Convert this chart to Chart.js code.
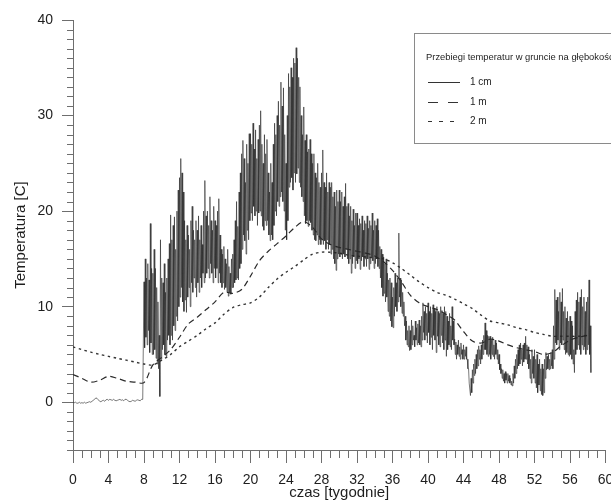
<!DOCTYPE html>
<html>
<head>
<meta charset="utf-8">
<script src="https://cdn.jsdelivr.net/npm/chart.js@4/dist/chart.umd.min.js"></script>
<style>
  html, body { margin: 0; padding: 0; background: #fff; }
  #wrap { width: 611px; height: 502px; position: relative; }
</style>
</head>
<body>
<div id="wrap"><canvas id="chart"></canvas></div>
<script>
(function () {
  'use strict';

  // --- Dane ---
  const legendTitle = 'Przebiegi temperatur w gruncie na głębokości';
  const seriesLabels = ['1 cm', '1 m', '2 m'];
  const xTitle = 'czas [tygodnie]';
  const yTitle = 'Temperatura [C]';
  const xTickStep = 4;
  const yTickStep = 10;

  // głębokość 1 m i 2 m, wartości tygodniowe (tydzień 0..58)
  const temp1m = [
    2.9, 2.5, 2.1, 2.3, 2.7, 2.5, 2.2, 2.1, 2.05, 3.9,
    4.7, 5.5, 6.8, 8.2, 8.9, 9.7, 10.5, 11.5, 11.4, 11.8,
    13.2, 14.8, 15.8, 16.6, 17.4, 18.3, 18.9, 18.3, 17.1, 16.5,
    16.2, 16.0, 15.8, 15.6, 15.3, 14.7, 13.8, 12.6, 11.2, 10.4,
    10.0, 9.7, 9.2, 8.6, 7.4, 6.4, 6.2, 6.6, 6.4, 6.0,
    5.7, 5.5, 5.3, 5.0, 5.2, 5.9, 6.5, 6.8, 7.0
  ];
  const temp2m = [
    5.8, 5.5, 5.25, 5.0, 4.8, 4.6, 4.4, 4.2, 4.0, 3.9,
    4.4, 5.0, 5.8, 6.4, 7.0, 7.7, 8.3, 9.2, 9.9, 10.2,
    10.4, 11.0, 12.0, 12.9, 13.6, 14.2, 14.9, 15.5, 15.7, 15.7,
    15.6, 15.4, 15.3, 15.2, 15.1, 15.0, 14.6, 14.0, 13.3, 12.6,
    12.0, 11.5, 11.2, 10.8, 10.3, 9.8, 9.1, 8.5, 8.3, 8.1,
    7.8, 7.6, 7.3, 7.1, 6.9, 6.9, 6.9, 6.9, 7.0
  ];

  // głębokość 1 cm, tygodnie 0..8 (wartości dzienne, przed rozmarzaniem)
  const temp1cmWinter = [
    0.0, -0.05, 0.0, -0.1, -0.1, 0.0, -0.1,
    -0.05, -0.1, 0.0, -0.1, -0.05, 0.0, 0.05,
    0.0, 0.1, 0.2, 0.3, 0.45, 0.4, 0.25,
    0.1, 0.05, 0.15, 0.2, 0.1, 0.25, 0.3,
    0.2, 0.3, 0.25, 0.2, 0.3, 0.2, 0.15,
    0.2, 0.25, 0.3, 0.2, 0.25, 0.15, 0.3,
    0.3, 0.2, 0.1, 0.05, 0.1, 0.2, 0.15,
    0.1, 0.2, 0.25, 0.2, 0.15, 0.3, 0.3
  ];
  // głębokość 1 cm od tygodnia 8: dzienne maksima i minima
  const temp1cmMax = [
    12.6, 15.0, 13.0, 14.5, 12.8, 18.7, 14.0,
    13.5, 16.0, 14.0, 12.0, 10.5, 7.0, 17.0,
    13.0, 12.5, 14.5, 11.5, 13.0, 15.0, 16.6,
    19.6, 17.0, 18.5, 19.4, 16.0, 20.0, 22.2,
    23.5, 25.5, 24.0, 22.0, 19.0, 17.0, 18.5,
    17.5, 16.0, 19.0, 20.5, 18.0, 17.0, 19.0,
    18.0, 19.5, 17.0, 18.5, 16.5, 20.0, 23.2,
    19.5, 20.0, 18.5, 21.5, 19.0, 18.0, 20.5,
    19.0, 18.5, 20.0, 21.3, 17.5, 16.0, 15.5,
    16.3, 15.0, 14.5, 16.0, 14.2, 13.5, 15.0,
    15.5, 17.0, 19.0, 21.0, 18.4, 22.0, 24.0,
    26.0, 27.4, 25.5, 23.0, 27.0, 25.0, 28.1,
    28.1, 27.0, 29.2, 26.5, 28.5, 25.5, 27.5,
    29.0, 30.5, 27.0, 25.0, 28.0, 26.0, 27.5,
    24.0, 22.0, 25.0, 23.0, 27.0, 29.2, 28.0,
    30.0, 31.5, 29.0, 33.5, 31.0, 32.9, 28.0,
    25.0, 30.0, 34.4, 33.0, 35.0, 34.0, 36.0,
    35.5, 37.1, 36.0, 34.0, 33.0, 30.0, 28.0,
    30.9, 27.4, 28.0, 26.2, 26.5, 27.5, 26.0,
    25.0, 26.0, 24.0, 23.5, 25.0, 23.0, 22.5,
    24.0, 26.4, 23.0, 22.5, 24.0, 22.0, 23.0,
    22.5, 23.0, 21.5, 22.0, 20.5, 22.2, 21.0,
    22.2, 21.0, 22.0, 20.5, 21.5, 22.9, 20.5,
    20.8, 19.5, 20.5, 19.0, 20.2, 18.5, 19.8,
    19.8, 18.5, 19.2, 18.7, 19.5, 18.0, 19.0,
    18.7, 19.5, 18.2, 19.0, 18.5, 19.8, 18.0,
    19.0, 18.5, 19.2, 18.0, 16.3, 16.0, 15.5,
    15.2, 14.5, 15.0, 13.5, 12.8, 13.0, 12.5,
    11.0, 12.0, 13.5, 12.5, 13.0, 17.7, 13.0,
    12.8, 11.5, 10.5, 9.0, 8.5, 7.5, 8.0,
    7.5, 8.6, 8.0, 7.0, 8.5, 7.8, 8.2,
    8.6, 8.0, 9.0, 10.4, 9.5, 10.0, 9.3,
    10.4, 9.5, 10.0, 9.3, 10.2, 9.8, 9.5,
    10.0, 9.5, 9.3, 10.0, 9.6, 9.3, 10.0,
    9.5, 9.0, 8.5, 9.3, 8.0, 10.0, 8.5,
    6.6, 6.3, 6.0, 6.5, 5.8, 6.2, 5.5,
    6.0, 5.5, 5.8, 4.5, 3.5, 2.0, 2.5,
    3.4, 4.0, 4.5, 5.0, 5.5, 5.9, 5.5,
    6.0, 6.5, 7.0, 8.3, 7.5, 7.0, 6.9,
    6.9, 6.5, 6.8, 6.0, 6.5, 6.2, 5.5,
    5.0, 4.0, 3.5, 3.4, 3.0, 3.2, 3.0,
    3.0, 2.8, 2.5, 2.2, 3.0, 3.8, 4.5,
    5.0, 5.5, 6.0, 6.2, 5.5, 6.0, 6.2,
    6.9, 6.0, 5.8, 5.0, 4.5, 5.5, 4.8,
    5.5, 4.5, 5.0, 4.0, 4.5, 3.5, 4.0,
    3.5, 4.5, 5.2, 4.8, 5.0, 4.5, 5.2,
    5.5, 8.0, 11.8, 10.7, 11.0, 9.5, 11.5,
    10.5, 11.9, 9.5, 10.0, 8.8, 9.5, 8.5,
    9.0, 8.5, 8.0, 5.5, 9.5, 10.7, 11.5,
    10.5, 11.0, 11.8, 10.0, 11.0, 9.5, 10.5,
    11.0, 12.8, 8.0
  ];
  const temp1cmMin = [
    5.7, 6.8, 6.0, 7.5, 5.2, 6.2, 5.0,
    5.0, 5.5, 4.6, 4.0, 3.5, 0.6, 4.5,
    5.5, 6.0, 5.0, 4.8, 6.5, 7.0, 6.0,
    7.0, 6.5, 8.0, 7.5, 9.0, 8.5, 10.0,
    11.0, 12.0, 10.5, 9.5, 10.7, 9.4, 11.0,
    12.0, 10.0, 12.5, 11.5, 13.0, 12.0, 11.0,
    12.5, 11.5, 13.0, 12.0, 13.5, 12.5, 13.0,
    13.5, 14.0, 13.0, 14.5, 13.5, 12.5, 14.0,
    13.0, 14.0, 12.5, 13.5, 12.5, 12.0, 12.5,
    11.8, 12.0, 11.5, 11.1, 11.5, 11.3, 12.0,
    12.0, 12.5, 12.8, 13.0, 12.8, 14.0, 14.5,
    16.0, 17.5, 16.9, 15.5, 18.0, 17.0, 19.0,
    19.8, 19.0, 20.5, 19.5, 20.0, 18.5, 19.8,
    20.0, 19.5, 18.4, 18.0, 19.0, 18.5, 19.0,
    17.5, 16.9, 17.5, 17.0, 18.5, 20.0, 19.5,
    21.0, 20.5, 21.5, 22.0, 21.0, 20.0, 18.0,
    17.0, 19.0, 22.5, 23.0, 23.5, 22.2, 24.0,
    23.0, 23.9, 24.5, 23.0, 22.5, 21.5, 21.0,
    19.5, 18.7, 19.0, 18.4, 19.0, 18.8, 18.0,
    17.5, 17.0, 16.9, 17.5, 16.5, 17.0, 16.5,
    17.0, 16.5, 16.9, 16.0, 17.0, 16.0, 16.5,
    15.5, 16.0, 15.0, 14.5, 13.8, 15.0, 15.5,
    15.2, 15.5, 15.0, 15.5, 15.2, 16.0, 15.0,
    14.5, 15.0, 13.5, 14.5, 15.2, 14.0, 14.8,
    14.5, 15.0, 13.9, 14.8, 15.2, 14.2, 15.0,
    14.2, 15.0, 13.9, 14.5, 15.2, 14.8, 14.0,
    14.5, 15.0, 14.2, 14.0, 13.0, 12.0, 11.1,
    11.4, 10.5, 11.0, 9.5, 9.0, 8.5, 7.9,
    7.8, 9.0, 10.0, 9.5, 10.5, 11.0, 10.0,
    9.3, 9.0, 8.0, 6.5, 6.0, 5.8, 5.4,
    5.5, 6.0, 6.5, 5.8, 6.5, 6.0, 6.2,
    6.0, 5.8, 6.5, 7.3, 6.5, 7.0, 6.2,
    7.3, 6.0, 6.8, 5.5, 7.0, 6.5, 5.2,
    6.9, 6.0, 5.8, 7.0, 6.2, 5.5, 6.5,
    4.8, 5.5, 6.0, 5.8, 5.5, 6.5, 6.0,
    5.0, 4.5, 5.0, 4.8, 4.5, 5.0, 4.5,
    4.5, 4.8, 4.5, 3.5, 2.0, 0.7, 1.0,
    2.0, 2.8, 3.0, 3.5, 3.8, 4.5, 4.0,
    4.5, 5.0, 5.5, 5.5, 5.0, 4.8, 5.0,
    4.5, 5.0, 4.8, 4.5, 5.0, 4.5, 4.0,
    3.4, 3.0, 2.5, 2.2, 2.0, 2.3, 2.0,
    2.2, 2.0, 1.8, 1.7, 2.0, 2.5, 3.0,
    3.5, 3.8, 4.0, 4.5, 3.8, 4.2, 4.5,
    4.5, 4.0, 3.5, 2.5, 2.0, 3.0, 2.5,
    2.0, 1.5, 1.0, 1.8, 1.2, 0.8, 0.7,
    1.0, 2.5, 3.4, 3.5, 3.4, 3.5, 3.8,
    3.5, 4.5, 6.2, 6.0, 6.5, 5.5, 6.2,
    6.0, 6.5, 5.5, 5.0, 5.2, 5.0, 4.8,
    5.0, 4.5, 4.0, 3.1, 5.0, 5.5, 6.0,
    5.5, 5.0, 6.0, 5.5, 5.8, 5.0, 5.5,
    6.0, 5.0, 3.1
  ];
  const thawWeek = 8;

  // --- Budowa serii ---
  const surface = [];
  temp1cmWinter.forEach(function (v, i) { surface.push({ x: i / 7, y: v }); });
  temp1cmMax.forEach(function (v, i) {
    const t = thawWeek + i / 7;
    surface.push({ x: t, y: v });
    surface.push({ x: t + 1 / 14, y: temp1cmMin[i] });
  });
  const deep1 = temp1m.map(function (v, i) { return { x: i, y: v }; });
  const deep2 = temp2m.map(function (v, i) { return { x: i, y: v }; });

  const axisColor = '#6e6e6e';
  const textColor = '#1e1e1e';
  const fontFamily = '"Liberation Sans", Arial, Helvetica, sans-serif';
  Chart.defaults.font.family = fontFamily;
  Chart.defaults.color = textColor;

  const legendDash = [[], [10, 10], [4, 7]];

  // --- Drobne podziałki osi ---
  const minorTicks = {
    id: 'minorTicks',
    afterDraw: function (chart) {
      const ctx = chart.ctx;
      const x = chart.scales.x;
      const y = chart.scales.y;
      ctx.save();
      ctx.strokeStyle = axisColor;
      ctx.lineWidth = 1;
      ctx.beginPath();
      for (let v = x.min; v <= x.max; v++) {
        if (v % xTickStep === 0) continue;
        const px = Math.round(x.getPixelForValue(v)) + 0.5;
        ctx.moveTo(px, x.top);
        ctx.lineTo(px, x.top + 8);
      }
      for (let v = y.min; v <= y.max; v++) {
        if (v % yTickStep === 0) continue;
        const py = Math.round(y.getPixelForValue(v)) + 0.5;
        ctx.moveTo(y.right - 6, py);
        ctx.lineTo(y.right, py);
      }
      ctx.stroke();
      ctx.restore();
    }
  };

  // --- Legenda w ramce ---
  const boxLegend = {
    id: 'boxLegend',
    afterDraw: function (chart) {
      const ctx = chart.ctx;
      ctx.save();
      ctx.fillStyle = '#fff';
      ctx.fillRect(414.5, 33.5, 230, 110);
      ctx.strokeStyle = '#8a8a8a';
      ctx.lineWidth = 1;
      ctx.strokeRect(414.5, 33.5, 230, 110);
      ctx.fillStyle = textColor;
      ctx.textBaseline = 'middle';
      ctx.font = '9.4px ' + fontFamily;
      ctx.fillText(legendTitle, 426, 57);
      ctx.font = '10px ' + fontFamily;
      chart.data.datasets.forEach(function (ds, i) {
        const yy = Math.round(82 + i * 19.5) + 0.5;
        ctx.strokeStyle = '#333';
        ctx.lineWidth = 1;
        ctx.setLineDash(legendDash[i]);
        ctx.beginPath();
        ctx.moveTo(428, yy);
        ctx.lineTo(460, yy);
        ctx.stroke();
        ctx.setLineDash([]);
        ctx.fillText(ds.label, 470, yy);
      });
      ctx.restore();
    }
  };

  new Chart(document.getElementById('chart'), {
    type: 'line',
    data: {
      datasets: [
        {
          label: seriesLabels[0],
          data: surface,
          borderColor: 'rgba(40, 40, 40, 0.78)',
          borderWidth: 0.8,
          pointRadius: 0,
          tension: 0
        },
        {
          label: seriesLabels[1],
          data: deep1,
          borderColor: '#2a2a2a',
          borderWidth: 1.2,
          borderDash: [6, 4],
          pointRadius: 0,
          tension: 0.3
        },
        {
          label: seriesLabels[2],
          data: deep2,
          borderColor: '#333',
          borderWidth: 1.4,
          borderDash: [2.5, 3.5],
          pointRadius: 0,
          tension: 0.3
        }
      ]
    },
    options: {
      responsive: true,
      maintainAspectRatio: false,
      animation: false,
      events: [],
      layout: { padding: { top: 20, right: 5.5, bottom: 0, left: 0 } },
      plugins: {
        legend: { display: false },
        tooltip: { enabled: false }
      },
      scales: {
        x: {
          type: 'linear',
          min: 0,
          max: 60,
          afterFit: function (scale) {
            scale.height = 52;
            scale.paddingLeft = 0;
            scale.paddingRight = 0;
          },
          ticks: {
            stepSize: 1,
            autoSkip: false,
            maxRotation: 0,
            padding: 9,
            font: { size: 14 },
            color: textColor,
            callback: function (v) { return v % xTickStep === 0 ? String(v) : ''; }
          },
          grid: {
            drawOnChartArea: false,
            drawTicks: true,
            tickLength: 13,
            tickColor: function (c) { return c.tick && c.tick.value % xTickStep === 0 ? axisColor : 'rgba(0,0,0,0)'; }
          },
          border: { display: true, color: axisColor, width: 1 },
          title: {
            display: true,
            text: xTitle,
            font: { size: 15 },
            color: textColor,
            padding: { top: 0, bottom: 0 }
          }
        },
        y: {
          min: -5,
          max: 40,
          afterFit: function (scale) {
            scale.width = 73;
            scale.paddingTop = 0;
            scale.paddingBottom = 0;
          },
          ticks: {
            stepSize: 1,
            autoSkip: false,
            padding: 9,
            font: { size: 14 },
            color: textColor,
            callback: function (v) { return v % yTickStep === 0 ? String(v) : ''; }
          },
          grid: {
            drawOnChartArea: false,
            drawTicks: true,
            tickLength: 11,
            tickColor: function (c) { return c.tick && c.tick.value % yTickStep === 0 ? axisColor : 'rgba(0,0,0,0)'; }
          },
          border: { display: true, color: axisColor, width: 1 },
          title: {
            display: true,
            text: yTitle,
            font: { size: 15 },
            color: textColor,
            padding: { top: 12, bottom: 0 }
          }
        }
      }
    },
    plugins: [minorTicks, boxLegend]
  });
})();
</script>
</body>
</html>
